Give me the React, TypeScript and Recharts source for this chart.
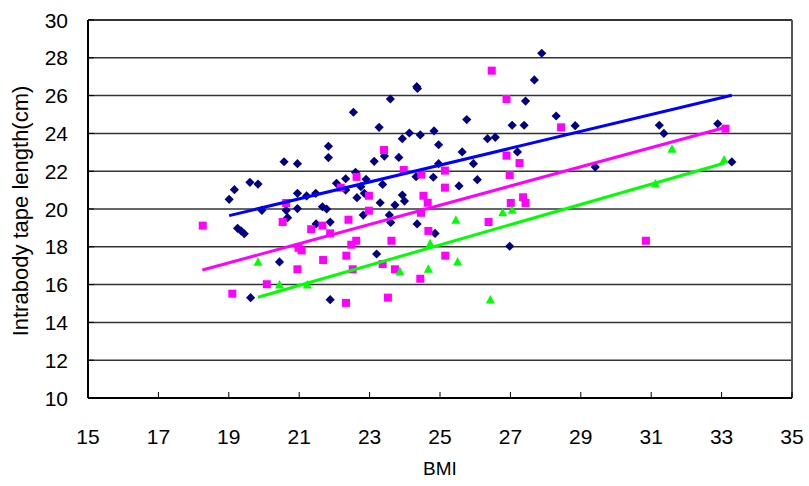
import { ScatterChart, Scatter, XAxis, YAxis, CartesianGrid, ReferenceLine } from "recharts";

// BMI vs intrabody tape length, three groups plus their fitted lines
const navyBmi = [
  22.54, 23.27, 21.83, 21.83, 20.57, 20.95, 23.13, 22.6, 22.32, 22.9, 19.6,
  27.89, 24.34, 24.36, 27.68, 23.59, 27.43, 28.3, 28.84, 25.76, 27.05, 27.39,
  24.13, 23.93, 24.44, 24.83, 26.35, 26.57, 24.96, 23.42, 23.83, 25.63, 27.2,
  25.95, 24.96, 24.32, 24.81, 26.06, 23.37, 25.54, 23.93, 23.99, 23.72, 23.3,
  23.56, 23.6, 24.35, 24.86, 26.98, 19.83, 19.16, 19.01, 19.94, 19.25, 19.35,
  19.44, 20.44, 19.62, 20.95, 21.21, 21.47, 20.63, 20.95, 20.67, 21.66, 21.78,
  22.06, 22.32, 21.48, 21.88, 22.64, 22.85, 22.75, 22.82, 21.88, 23.2, 31.23,
  31.36, 32.89, 29.41, 33.29,
];
const navyTape = [
  25.12, 24.32, 23.32, 22.72, 22.5, 22.4, 22.52, 21.94, 21.6, 21.57, 21.41,
  28.24, 26.47, 26.38, 26.83, 25.82, 25.71, 24.92, 24.41, 24.73, 24.43, 24.43,
  24.02, 23.72, 23.92, 24.13, 23.72, 23.79, 23.4, 22.8, 22.73, 23.02, 23.02,
  22.4, 22.4, 21.71, 21.68, 21.55, 21.3, 21.22, 20.74, 20.42, 20.21, 20.33,
  19.68, 19.29, 19.21, 18.71, 18.03, 21.32, 21.02, 20.51, 19.93, 18.98, 18.84,
  18.69, 17.2, 15.31, 20.83, 20.69, 20.83, 19.93, 20.02, 19.54, 20.12, 20.0,
  21.36, 21.0, 19.21, 19.31, 20.6, 20.83, 21.18, 19.68, 15.2, 17.62, 24.43,
  24.0, 24.51, 22.22, 22.49,
];

const pinkBmi = [
  22.63, 26.47, 26.89, 28.44, 23.41, 26.89, 27.26, 23.97, 25.14, 24.47, 26.98,
  20.63, 20.53, 21.34, 21.66, 21.88, 22.18, 22.98, 22.98, 22.4, 22.62, 22.48,
  20.98, 21.07, 22.34, 21.68, 20.95, 22.52, 20.08, 19.1, 22.33, 18.26, 25.14,
  24.53, 24.65, 24.46, 24.67, 27.01, 27.36, 27.43, 26.38, 23.62, 25.15, 23.37,
  23.72, 24.44, 23.52, 33.11, 30.85,
];
const pinkTape = [
  21.7, 27.32, 25.82, 24.32, 23.12, 22.82, 22.43, 22.06, 22.03, 21.82, 21.8,
  20.32, 19.31, 18.93, 19.12, 18.71, 21.13, 20.7, 19.91, 19.43, 18.32, 18.11,
  17.95, 17.81, 17.53, 17.3, 16.81, 16.81, 16.02, 15.52, 15.03, 19.12, 21.13,
  20.7, 20.33, 19.8, 18.84, 20.32, 20.62, 20.32, 19.31, 18.32, 17.53, 17.09,
  16.81, 16.31, 15.31, 24.25, 18.32,
];

const greenBmi = [19.83, 20.44, 21.23, 26.78, 27.05, 25.45, 24.72, 25.5, 23.86, 24.67, 26.43, 31.59, 31.12, 33.07];
const greenTape = [17.18, 15.98, 15.98, 19.8, 19.93, 19.4, 18.16, 17.2, 16.68, 16.81, 15.19, 23.16, 21.32, 22.59];

// fitted line end points
const navyFitBmi = [19.01, 33.29];
const navyFitTape = [19.65, 26.02];
const pinkFitBmi = [18.25, 33.07];
const pinkFitTape = [16.77, 24.3];
const greenFitBmi = [19.83, 33.07];
const greenFitTape = [15.33, 22.42];

const xTicks = [15, 17, 19, 21, 23, 25, 27, 29, 31, 33, 35];
const yTicks = [10, 12, 14, 16, 18, 20, 22, 24, 26, 28, 30];

const FONT = "'Liberation Sans', Arial, sans-serif";

const zip = (xs: number[], ys: number[]) => xs.map((x, i) => ({ bmi: x, tape: ys[i] }));

function Diamond(props: any) {
  const { cx, cy } = props;
  const r = 4.6;
  return <polygon points={`${cx},${cy - r} ${cx + r},${cy} ${cx},${cy + r} ${cx - r},${cy}`} fill="#000080" />;
}

function Square(props: any) {
  const { cx, cy } = props;
  return <rect x={cx - 4} y={cy - 4} width={8} height={8} fill="#FF00FF" />;
}

function Triangle(props: any) {
  const { cx, cy } = props;
  return <polygon points={`${cx},${cy - 5} ${cx + 4.5},${cy + 3.5} ${cx - 4.5},${cy + 3.5}`} fill="#00FF00" />;
}

const NoDot = () => <g />;

function XTick(props: any) {
  const { x, y, payload } = props;
  return (
    <g>
      <line x1={x} x2={x} y1={y - 6} y2={y} stroke="#000" strokeWidth={1} />
      <text x={x} y={y + 46} textAnchor="middle" fontSize={21} fontFamily={FONT} fill="#000">
        {payload.value}
      </text>
    </g>
  );
}

function YTick(props: any) {
  const { x, y, payload } = props;
  return (
    <g>
      <line x1={x} x2={x + 6} y1={y} y2={y} stroke="#000" strokeWidth={1} />
      <text x={x - 20} y={y} dy="0.36em" textAnchor="end" fontSize={21} fontFamily={FONT} fill="#000">
        {payload.value}
      </text>
    </g>
  );
}

export default function App() {
  return (
    <div style={{ position: "absolute", left: 0, top: 0, background: "#fff" }}>
      <ScatterChart width={809} height={486} margin={{ top: 20, right: 17, bottom: 28, left: 28 }}>
        <CartesianGrid vertical={false} stroke="#333" strokeWidth={1.5} />
        <XAxis
          type="number"
          dataKey="bmi"
          domain={[15, 35]}
          ticks={xTicks}
          height={60}
          tickSize={0}
          tickMargin={0}
          tickLine={false}
          tick={<XTick />}
          axisLine={{ stroke: "#000", strokeWidth: 2 }}
          label={{
            content: () => (
              <text x={440} y={475} textAnchor="middle" fontSize={19} fontFamily={FONT} fill="#000">
                BMI
              </text>
            ),
          }}
        />
        <YAxis
          type="number"
          dataKey="tape"
          domain={[10, 30]}
          ticks={yTicks}
          width={60}
          tickSize={0}
          tickMargin={0}
          tickLine={false}
          tick={<YTick />}
          axisLine={{ stroke: "#000", strokeWidth: 2 }}
          label={{
            content: () => (
              <text
                x={20}
                y={211}
                transform="rotate(-90, 20, 211)"
                textAnchor="middle"
                dominantBaseline="central"
                fontSize={22}
                fontFamily={FONT}
                fill="#000"
              >
                Intrabody tape length(cm)
              </text>
            ),
          }}
        />
        <ReferenceLine y={30} stroke="#333" strokeWidth={2} />
        <ReferenceLine x={35} stroke="#555" strokeWidth={2} />
        <Scatter data={zip(navyBmi, navyTape)} shape={<Diamond />} isAnimationActive={false} />
        <Scatter data={zip(pinkBmi, pinkTape)} shape={<Square />} isAnimationActive={false} />
        <Scatter data={zip(greenBmi, greenTape)} shape={<Triangle />} isAnimationActive={false} />
        <Scatter
          data={zip(navyFitBmi, navyFitTape)}
          line={{ stroke: "#0000FF", strokeWidth: 3 }}
          shape={<NoDot />}
          isAnimationActive={false}
        />
        <Scatter
          data={zip(pinkFitBmi, pinkFitTape)}
          line={{ stroke: "#FF00FF", strokeWidth: 3 }}
          shape={<NoDot />}
          isAnimationActive={false}
        />
        <Scatter
          data={zip(greenFitBmi, greenFitTape)}
          line={{ stroke: "#00FF00", strokeWidth: 3 }}
          shape={<NoDot />}
          isAnimationActive={false}
        />
      </ScatterChart>
    </div>
  );
}
